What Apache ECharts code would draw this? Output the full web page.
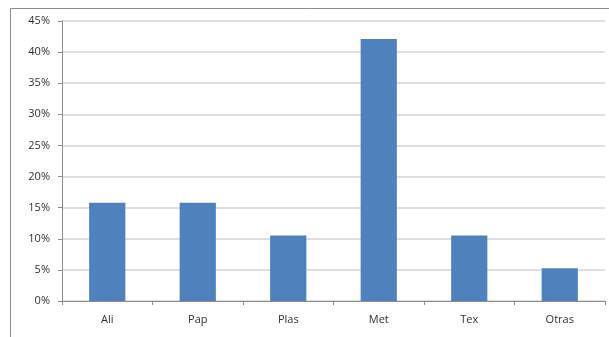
<!DOCTYPE html>
<html>
<head>
<meta charset="utf-8">
<script src="https://cdn.jsdelivr.net/npm/echarts@6/dist/echarts.min.js"></script>
<style>
  html, body { margin: 0; padding: 0; background: #fff; }
  #chart { width: 609px; height: 337px; }
</style>
</head>
<body>
<div id="chart"></div>
<script>
const categories = ['Ali', 'Pap', 'Plas', 'Met', 'Tex', 'Otras']
const values = [15.79, 15.79, 10.53, 42.11, 10.53, 5.26]

const chart = echarts.init(document.getElementById('chart'))
chart.setOption({
  animation: false,
  graphic: [
    {
      type: 'rect',
      shape: { x: 10.5, y: 8.5, width: 620, height: 360 },
      style: { fill: 'none', stroke: '#8c8c8c', lineWidth: 1 },
      z: -1,
    },
  ],
  grid: {
    left: 62,
    right: 4,
    top: 21,
    bottom: 36,
    containLabel: false,
  },
  xAxis: {
    type: 'category',
    data: categories,
    axisLine: { show: true, lineStyle: { color: '#8c8c8c' } },
    axisTick: { show: true, alignWithLabel: false, length: 4, lineStyle: { color: '#8c8c8c' } },
    axisLabel: {
      margin: 13,
      color: '#333',
      fontSize: 11,
      fontFamily: 'Open Sans',
    },
  },
  yAxis: {
    type: 'value',
    min: 0,
    max: 45,
    interval: 5,
    axisLine: { show: true, lineStyle: { color: '#8c8c8c' } },
    axisTick: { show: true, length: 4, lineStyle: { color: '#8c8c8c' } },
    axisLabel: {
      margin: 12,
      color: '#333',
      fontSize: 11,
      fontFamily: 'Open Sans',
      formatter: '{value}%',
    },
    splitLine: { show: true, lineStyle: { color: '#d4d4d4', width: 1.5 } },
  },
  series: [
    {
      type: 'bar',
      data: values,
      barWidth: '40%',
      itemStyle: { color: '#4f81bd' },
    },
  ],
})
</script>
</body>
</html>
